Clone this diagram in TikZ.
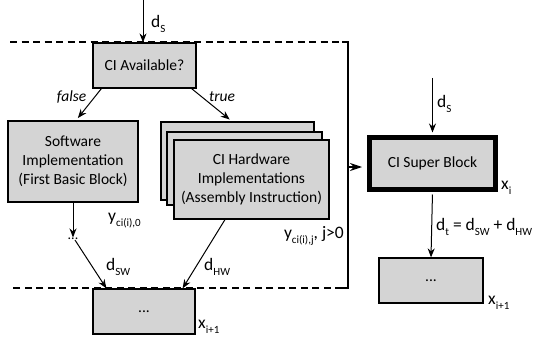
\documentclass[tikz,border=0pt]{standalone}
\usepackage{fontspec}
\setmainfont{Carlito}
\usetikzlibrary{arrows.meta}
\definecolor{boxgray}{RGB}{212,212,212}
\newcommand\subl[1]{\raisebox{-0.6ex}{\fontsize{11}{11}\selectfont #1}}
\begin{document}
\begin{tikzpicture}[x=1pt,y=-1pt,
  box/.style={draw, line width=1.2pt, fill=boxgray, inner sep=0pt, align=center,
    font=\fontsize{15.5}{19}\selectfont},
  lbl/.style={font=\fontsize{17.5}{19}\selectfont, inner sep=0pt},
  arr/.style={line width=1pt, -{Stealth[length=9pt,width=7pt]}},
  dashline/.style={line width=1.4pt, dash pattern=on 7pt off 4.5pt}]
\useasboundingbox (0,0) rectangle (534,339);

% dashed frame
\coordinate (dl1) at (10,42);
\coordinate (dr1) at (348,42);
\coordinate (dr2) at (348,288);
\coordinate (dl2) at (10,288);
\draw[dashline] (dl1) -- (342,42);
\draw[line width=1.4pt] (342,42) -- (dr1) -- (dr2) -- (342,288);
\draw[dashline] (342,288) -- (dl2);

% left boxes
\node[box, minimum width=103, minimum height=45] (ci) at (144.5,65.5) {CI Available?};
\node[box, minimum width=130, minimum height=81] (sw) at (73,161.5) {Software\\Implementation\\(First Basic Block)};
\node[box, minimum width=153, minimum height=78] (hwb) at (237.5,161) {};
\node[box, minimum width=155, minimum height=73] (hwm) at (244.5,168.5) {};
\node[box, minimum width=155, minimum height=79] (hwf) at (251.5,179.5) {CI Hardware\\Implementations\\(Assembly Instruction)};
\node[box, minimum width=102, minimum height=45] (bot) at (144,311.5) {...};
\node[lbl, font=\fontsize{14}{14}\selectfont] (swdots) at (73,239) {...};

% right side
\node[box, line width=5pt, minimum width=126, minimum height=52] (sup) at (432.5,163.5) {CI Super Block};
\node[box, minimum width=104, minimum height=45] (br) at (431,280.5) {...};
\coordinate (topin) at (143,0);
\coordinate (supin) at (432.5,78);
\coordinate (brk) at (348,167);
\coordinate (brktip) at (362,167);

% connectors
\draw[arr] (topin) -- (ci.north -| topin);
\draw[arr, shorten >=3pt] ([xshift=9pt]ci.south west) -- ([xshift=3pt]sw.north);
\draw[arr, shorten >=3pt] ([xshift=-5pt]ci.south east) -- ([xshift=-5.5pt]hwb.north);
\draw[arr, shorten >=0.5pt] (sw.south) -- (swdots.north);
\draw[arr] ([xshift=2pt]swdots.south) -- ([xshift=14pt]bot.north west);
\draw[arr] ([xshift=-26.5pt]hwf.south) -- ([xshift=-13pt]bot.north east);
\draw[line width=1.2pt, -{Stealth[length=12pt,width=8pt]}] (brk) -- (brktip);
\draw[arr, shorten >=2.5pt] (supin) -- (sup.north);
\draw[arr, shorten <=2.5pt] (sup.south) -- (br.north);

% labels
\node[lbl, anchor=west] (ldsa) at (151,24) {d\subl{S}};
\node[lbl, anchor=center, font=\fontsize{15.5}{19}\selectfont\itshape] (lfalse) at (71.5,97) {false};
\node[lbl, anchor=center, font=\fontsize{15.5}{19}\selectfont\itshape] (ltrue) at (222,97) {true};
\node[lbl, anchor=west] (ly0) at (108,221) {y\subl{ci(i),0}};
\node[lbl, anchor=west] (ldsw) at (106,267) {d\subl{SW}};
\node[lbl, anchor=west] (ldhw) at (204,267) {d\subl{HW}};
\node[lbl, anchor=west] (lxi1) at (198,327) {x\subl{i+1}};
\node[lbl, anchor=east] (lyj) at (344,236) {y\subl{ci(i),j}, j>0};
\node[lbl, anchor=west] (ldsb) at (437,104) {d\subl{S}};
\node[lbl, anchor=west] (lxi) at (501,188) {x\subl{i}};
\node[lbl, anchor=west] (ldt) at (436,227) {d\subl{t} = d\subl{SW} + d\subl{HW}};
\node[lbl, anchor=west] (lxi1b) at (488,303) {x\subl{i+1}};
\end{tikzpicture}
\end{document}
